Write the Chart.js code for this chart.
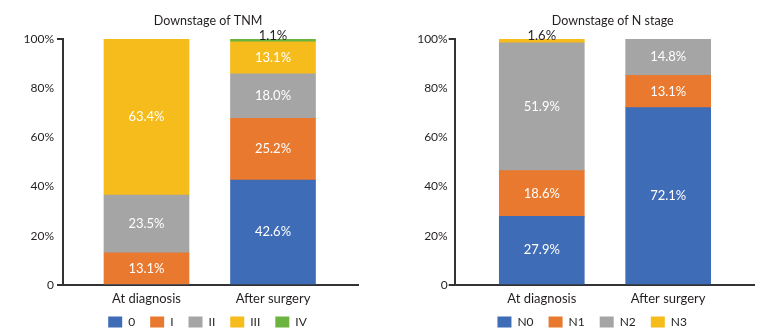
<!DOCTYPE html>
<html>
<head>
<meta charset="utf-8">
<script src="https://cdn.jsdelivr.net/npm/chart.js@4/dist/chart.umd.min.js"></script>
<style>
  html, body { margin: 0; padding: 0; background: #ffffff; }
  #wrap { position: relative; width: 768px; height: 334px; overflow: hidden; }
  canvas { position: absolute; top: 0; }
  #c1 { left: 0; }
  #c2 { left: 384px; }
</style>
</head>
<body>
<div id="wrap">
  <canvas id="c1" width="384" height="334"></canvas>
  <canvas id="c2" width="384" height="334"></canvas>
</div>
<script>
// ---------- data ----------
const categories = ['At diagnosis', 'After surgery'];
const yTicks = [0, 20, 40, 60, 80, 100];

const tnmTitle = 'Downstage of TNM';
const tnmStages = ['0', 'I', 'II', 'III', 'IV'];
const tnmStage0 = [0, 42.6];
const tnmStageI = [13.1, 25.2];
const tnmStageII = [23.5, 18.0];
const tnmStageIII = [63.4, 13.1];
const tnmStageIV = [0, 1.1];

const nTitle = 'Downstage of N stage';
const nStages = ['N0', 'N1', 'N2', 'N3'];
const nStage0 = [27.9, 72.1];
const nStage1 = [18.6, 13.1];
const nStage2 = [51.9, 14.8];
const nStage3 = [1.6, 0];

// ---------- styles ----------
const BLUE = '#3F6CB6', ORANGE = '#E8792F', GRAY = '#A5A5A5', YELLOW = '#F5BC1C', GREEN = '#6DB33F';
const INK = '#231f20', AXIS = '#333333';
const FONT = 'Lato';

const valueLabels = {
  id: 'valueLabels',
  afterDatasetsDraw(chart) {
    const ctx = chart.ctx;
    chart.data.datasets.forEach((ds, i) => {
      const meta = chart.getDatasetMeta(i);
      meta.data.forEach((bar, j) => {
        const v = ds.data[j].y;
        if (!v) return;
        const txt = v.toFixed(1) + '%';
        ctx.save();
        ctx.font = '13px ' + FONT;
        ctx.textAlign = 'center';
        ctx.textBaseline = 'middle';
        if (v < 5) {
          ctx.fillStyle = INK;
          ctx.fillText(txt, bar.x, bar.y - 3);
        } else {
          ctx.fillStyle = '#ffffff';
          ctx.fillText(txt, bar.x, (bar.y + bar.base) / 2);
        }
        ctx.restore();
      });
    });
  }
};

// places title / legend blocks at given centres after Chart.js layout
const blockPlacer = {
  id: 'blockPlacer',
  afterLayout(chart, args, opts) {
    const t = chart.titleBlock, l = chart.legend;
    if (t && opts.titleX != null) {
      const w = t.right - t.left;
      t.left = opts.titleX - w / 2; t.right = t.left + w;
    }
    if (l && opts.legendX != null) {
      const w = l.right - l.left;
      l.left = opts.legendX - w / 2; l.right = l.left + w;
    }
    if (l && opts.legendTop != null) {
      const h = l.bottom - l.top;
      l.top = opts.legendTop; l.bottom = l.top + h;
    }
  }
};

function makeChart(id, cfg) {
  const datasets = cfg.stages.map((name, k) => ({
    label: name,
    data: cfg.series[k].map((v, i) => ({ x: i, y: v })),
    backgroundColor: cfg.colors[k],
    borderWidth: 0,
    barThickness: 85
  }));
  return new Chart(document.getElementById(id), {
    type: 'bar',
    data: { datasets },
    plugins: [valueLabels, blockPlacer],
    options: {
      responsive: false,
      animation: false,
      devicePixelRatio: 1,
      layout: { padding: { left: 0, right: cfg.padRight, top: 0, bottom: -14 } },
      plugins: {
        tooltip: { enabled: false },
        blockPlacer: { titleX: cfg.titleX, legendX: cfg.legendX, legendTop: 301 },
        title: {
          display: true,
          text: cfg.title,
          color: INK,
          font: { family: FONT, size: 12.5, weight: 'normal' },
          padding: { top: 13.5, bottom: 10.5 }
        },
        legend: {
          display: true,
          position: 'bottom',
          labels: {
            color: INK,
            font: { family: FONT, size: 12 },
            boxWidth: 14,
            boxHeight: 11,
            padding: 15
          }
        }
      },
      scales: {
        x: {
          type: 'linear',
          offset: false,
          stacked: true,
          min: cfg.xMin,
          max: cfg.xMax,
          afterBuildTicks: (scale) => { scale.ticks = categories.map((c, i) => ({ value: i })); },
          afterFit: (scale) => { scale.height = 26; },
          ticks: {
            color: INK,
            font: { family: FONT, size: 13 },
            padding: 6,
            maxRotation: 0,
            autoSkip: false,
            callback: (v) => categories[v]
          },
          grid: { display: true, drawOnChartArea: false, drawTicks: false },
          border: { display: true, color: AXIS, width: 2 }
        },
        y: {
          stacked: true,
          min: 0,
          max: 100,
          afterBuildTicks: (scale) => { scale.ticks = yTicks.map(v => ({ value: v })); },
          afterFit: (scale) => { scale.width = cfg.yWidth; },
          ticks: {
            color: INK,
            font: { family: FONT, size: 12 },
            padding: cfg.tickPad,
            callback: (v) => (v === 0 ? '0' : v + '%')
          },
          grid: {
            display: true,
            drawOnChartArea: false,
            drawTicks: true,
            tickLength: 6,
            lineWidth: 2,
            color: (c) => (c.tick && (c.tick.value === 100 || c.tick.value === 0)) ? AXIS : 'rgba(0,0,0,0)'
          },
          border: { display: true, color: AXIS, width: 2 }
        }
      }
    }
  });
}

makeChart('c1', {
  title: tnmTitle,
  stages: tnmStages,
  series: [tnmStage0, tnmStageI, tnmStageII, tnmStageIII, tnmStageIV],
  colors: [BLUE, ORANGE, GRAY, YELLOW, GREEN],
  padRight: 26, yWidth: 63, tickPad: 3,
  xMin: -0.660, xMax: 1.672,
  titleX: 208, legendX: 207.5
});

makeChart('c2', {
  title: nTitle,
  stages: nStages,
  series: [nStage0, nStage1, nStage2, nStage3],
  colors: [BLUE, ORANGE, GRAY, YELLOW],
  padRight: 14, yWidth: 70.7, tickPad: 1,
  xMin: -0.689, xMax: 1.679,
  titleX: 228.7, legendX: 208.2
});
</script>
</body>
</html>
